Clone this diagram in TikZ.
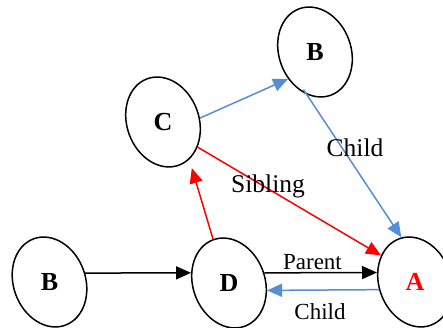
\documentclass[tikz,border=0pt]{standalone}
\usepackage{fontspec}
\setmainfont{Liberation Serif}
\usetikzlibrary{shapes.geometric,arrows.meta}
\definecolor{lnblue}{RGB}{85,142,213}
\tikzset{
  ell/.style={ellipse, draw=black, line width=1.5pt, minimum width=72pt, minimum height=92pt, inner sep=0pt, rotate=20},
  lett/.style={font=\fontsize{26}{30}\selectfont\bfseries, inner sep=0pt},
  labbig/.style={font=\fontsize{25.5}{30}\selectfont, inner sep=0pt, anchor=base},
  labsmall/.style={font=\fontsize{23}{27}\selectfont, inner sep=0pt, anchor=base},
  conn/.style={line width=1.5pt, -{Triangle[length=15pt,width=13pt]}},
}
\begin{document}
\begin{tikzpicture}[x=1pt,y=1pt]
\clip (0,0) rectangle (443,328);
% ellipses
\node[ell] (B1) at (49.5,46) {};
\node[ell] (D) at (229,45) {};
\node[ell] (A) at (415,46) {};
\node[ell] (C) at (163,206) {};
\node[ell] (B2) at (315,276) {};
% letters
\node[lett] (B1t) at (B1.center) {B};
\node[lett] (Dt) at (D.center) {D};
\node[lett, text=red] (At) at (A.center) {A};
\node[lett] (Ct) at (C.center) {C};
\node[lett] (B2t) at (B2.center) {B};
% connectors
\draw[conn, black] (B1.354.5) -- (D.145);
\draw[conn, black] (D.356.1) -- (A.146.4);
\draw[conn, lnblue] (A.172.8) -- (D.329.4);
\draw[conn, red, shorten >=9pt] (D.90) -- (C.285.5);
\draw[conn, red] (C.304.3) -- (A.122.4);
\draw[conn, lnblue] (C.346.2) -- (B2.205);
\draw[conn, lnblue, shorten <=-6pt] (B2.239.6) -- (A.87.7);
% labels
\node[labsmall] (lparent) at (312.5,58) {Parent};
\node[labsmall] (lchild1) at (320,8) {Child};
\node[labbig] (lsibling) at (268,135) {Sibling};
\node[labbig] (lchild2) at (355,171) {Child};
\end{tikzpicture}
\end{document}
